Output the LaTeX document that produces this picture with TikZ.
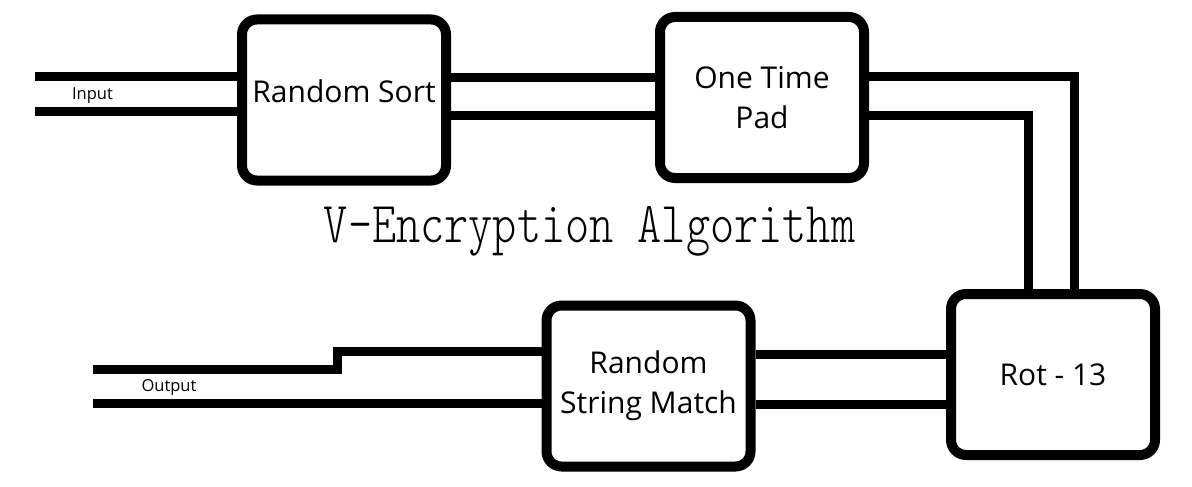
\documentclass[tikz,border=0pt]{standalone}
\usepackage{fontspec}
\usepackage{graphicx}
\setmainfont{Open Sans}
\newfontfamily\titlefont{lmmonolt10-regular.otf}
\usetikzlibrary{calc}
\tikzset{
  stagebox/.style={draw=black, line width=10pt, rounded corners=15pt, fill=white,
    minimum width=204pt, minimum height=161pt, align=center,
    font=\fontsize{30}{40}\selectfont, inner sep=0pt},
  wire/.style={draw=black, line width=9pt, line cap=butt, line join=miter},
  small/.style={font=\fontsize{16.5}{20}\selectfont, inner sep=0pt}
}
\begin{document}
\begin{tikzpicture}[x=1pt, y=-1pt]
\useasboundingbox[fill=white] (0,0) rectangle (1192,487);
% boxes
\node[stagebox] (rs) at (344,100) {\raisebox{17pt}{Random Sort}};
\node[stagebox] (otp) at (762,97.5) {One Time\\Pad};
\node[stagebox] (rot) at (1053,374.5) {Rot - 13};
\node[stagebox] (rsm) at (648.5,386) {Random\\String Match};
% free ends
\coordinate (in1) at (35,77);
\coordinate (in2) at (35,111);
\coordinate (out1) at (93,369);
\coordinate (out2) at (93,403.5);
% input
\draw[wire] (in1) -- (in1 -| rs.west);
\draw[wire] (in2) -- (in2 -| rs.west);
\node[small] (inlbl) at (92.5,95.5) {Input};
% rs -> otp
\draw[wire] (rs.east |- 0,78) -- (otp.west |- 0,78);
\draw[wire] (rs.east |- 0,115.5) -- (otp.west |- 0,115.5);
% otp -> rot
\draw[wire] (otp.east |- 0,77) -| (rot.north -| 1074,0);
\draw[wire] (otp.east |- 0,115) -| (rot.north -| 1028,0);
% rot -> rsm
\draw[wire] (rot.west |- 0,354.5) -- (rsm.east |- 0,354.5);
\draw[wire] (rot.west |- 0,404) -- (rsm.east |- 0,404);
% rsm -> output
\draw[wire] (rsm.west |- 0,351.5) -| (337.5,369) -- (out1);
\draw[wire] (rsm.west |- 0,403.5) -- (out2);
\node[small] (outlbl) at (169,387) {Output};
% title
\node[inner sep=0pt] (title) at (589.5,231) {\scalebox{1}[1.26]{\fontsize{46}{50}\selectfont\titlefont V-Encryption Algorithm}};
\end{tikzpicture}
\end{document}
